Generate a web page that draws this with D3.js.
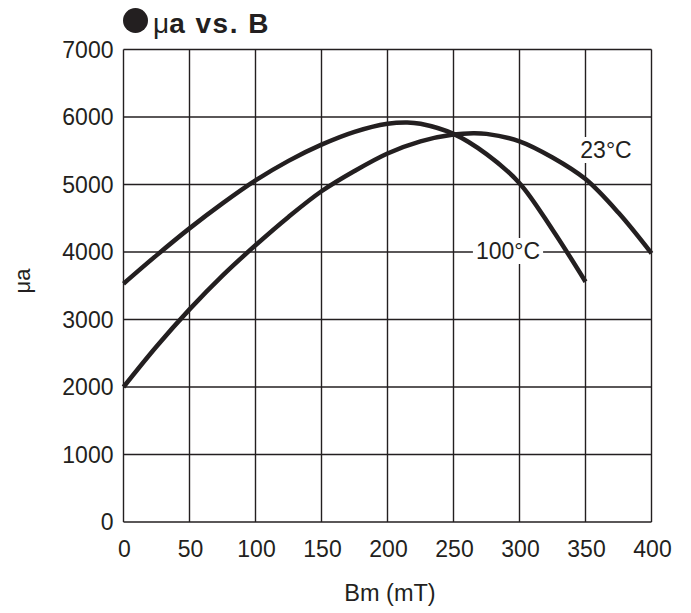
<!DOCTYPE html>
<html>
<head>
<meta charset="utf-8">
<script src="https://cdn.jsdelivr.net/npm/d3@7"></script>
<style>
  body { margin: 0; background: #fff; }
  text { font-family: "Liberation Sans", Arial, sans-serif; fill: #231f20; }
</style>
</head>
<body>
<div id="chart"></div>
<script>
const xTicks = [0, 50, 100, 150, 200, 250, 300, 350, 400];
const yTicks = [0, 1000, 2000, 3000, 4000, 5000, 6000, 7000];

// 100°C curve
const hotB = [0, 25, 50, 75, 100, 125, 150, 175, 200, 215, 225, 250, 275, 300, 325, 350];
const hotMu = [3530, 3950, 4350, 4720, 5060, 5350, 5590, 5780, 5900, 5920, 5900, 5750, 5450, 5020, 4330, 3560];

// 23°C curve
const roomB = [0, 25, 50, 75, 100, 125, 150, 175, 200, 225, 250, 265, 275, 300, 325, 350, 375, 400];
const roomMu = [2000, 2600, 3150, 3650, 4100, 4520, 4900, 5200, 5460, 5640, 5740, 5760, 5750, 5640, 5400, 5080, 4580, 3980];

const width = 691;
const height = 613;
const margin = { top: 49.5, right: 39.5, bottom: 91, left: 123.5 };

const svg = d3.select('#chart')
  .append('svg')
  .attr('width', width)
  .attr('height', height);

const x = d3.scaleLinear()
  .domain([0, 400])
  .range([margin.left, width - margin.right]);

const y = d3.scaleLinear()
  .domain([0, 7000])
  .range([height - margin.bottom, margin.top]);

// grid
svg.append('g')
  .selectAll('line')
  .data(xTicks)
  .join('line')
  .attr('x1', d => x(d))
  .attr('x2', d => x(d))
  .attr('y1', y(0))
  .attr('y2', y(7000))
  .attr('stroke', '#231f20')
  .attr('stroke-width', 1.4);

svg.append('g')
  .selectAll('line')
  .data(yTicks)
  .join('line')
  .attr('x1', x(0))
  .attr('x2', x(400))
  .attr('y1', d => y(d))
  .attr('y2', d => y(d))
  .attr('stroke', '#231f20')
  .attr('stroke-width', 1.4);

// tick labels
svg.append('g')
  .selectAll('text')
  .data(xTicks)
  .join('text')
  .attr('x', d => x(d) + 1)
  .attr('y', 556.5)
  .attr('text-anchor', 'middle')
  .style('font-size', '23px')
  .text(d => d);

svg.append('g')
  .selectAll('text')
  .data(yTicks)
  .join('text')
  .attr('x', 113.5)
  .attr('y', d => y(d) + 8.3)
  .attr('text-anchor', 'end')
  .style('font-size', '23px')
  .text(d => d);

// curves
const line = d3.line()
  .x(d => x(d[0]))
  .y(d => y(d[1]))
  .curve(d3.curveCatmullRom);

svg.append('path')
  .datum(hotB.map((b, i) => [b, hotMu[i]]))
  .attr('d', line)
  .attr('fill', 'none')
  .attr('stroke', '#231f20')
  .attr('stroke-width', 4.5);

svg.append('path')
  .datum(roomB.map((b, i) => [b, roomMu[i]]))
  .attr('d', line)
  .attr('fill', 'none')
  .attr('stroke', '#231f20')
  .attr('stroke-width', 4.5);

// curve labels with white boxes over the grid
function curveLabel(cx, cy, txt) {
  const g = svg.append('g');
  const t = g.append('text')
    .attr('x', cx)
    .attr('y', cy + 7)
    .attr('text-anchor', 'middle')
    .style('font-size', '23px')
    .text(txt);
  const bb = t.node().getBBox();
  g.insert('rect', 'text')
    .attr('x', bb.x - 3)
    .attr('y', bb.y)
    .attr('width', bb.width + 6)
    .attr('height', bb.height)
    .attr('fill', '#fff');
}
curveLabel(508, y(4000), '100°C');
curveLabel(606, 151, '23°C');

// axis titles
svg.append('text')
  .attr('transform', `translate(30, 281) rotate(-90)`)
  .attr('text-anchor', 'middle')
  .style('font-size', '22px')
  .text('μa');

svg.append('text')
  .attr('x', 390)
  .attr('y', 601)
  .attr('text-anchor', 'middle')
  .style('font-size', '23.5px')
  .text('Bm (mT)');

// title
svg.append('circle')
  .attr('cx', 135.5)
  .attr('cy', 20.5)
  .attr('r', 12.5)
  .attr('fill', '#231f20');

const title = svg.append('text')
  .attr('x', 153)
  .attr('y', 33)
  .style('font-size', '28px');
title.append('tspan').text('μ');
title.append('tspan')
  .style('font-weight', 'bold')
  .style('letter-spacing', '1.5px')
  .text('a vs. B');
</script>
</body>
</html>
